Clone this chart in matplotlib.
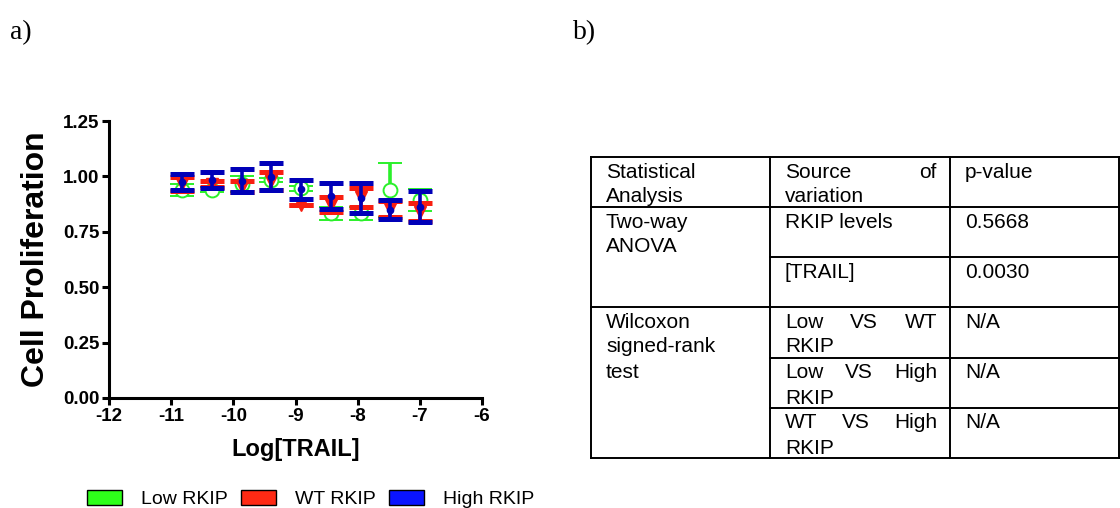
import matplotlib
matplotlib.use("Agg")
import matplotlib.pyplot as plt
from matplotlib.patches import Patch

plt.rcParams['font.family'] = ['Liberation Sans', 'DejaVu Sans']

# data
log_trail = [-10.82, -10.34, -9.86, -9.39, -8.91, -8.43, -7.95, -7.48, -7.00]
series_names = ["Low RKIP", "WT RKIP", "High RKIP"]
low_mean = [0.940, 0.940, 0.965, 0.984, 0.946, 0.833, 0.833, 0.939, 0.893]
low_err = [0.027, 0.010, 0.035, 0.010, 0.010, 0.030, 0.030, 0.120, 0.049]
wt_mean = [0.966, 0.965, 0.953, 0.980, 0.871, 0.873, 0.905, 0.853, 0.840]
wt_err = [0.032, 0.015, 0.025, 0.041, 0.000, 0.035, 0.044, 0.036, 0.040]
high_mean = [0.975, 0.984, 0.981, 0.999, 0.941, 0.911, 0.901, 0.850, 0.864]
high_err = [0.035, 0.037, 0.052, 0.060, 0.043, 0.058, 0.068, 0.043, 0.068]

xticks = [-12, -11, -10, -9, -8, -7, -6]
yticks = [0.00, 0.25, 0.50, 0.75, 1.00, 1.25]

# table text
header = ["Statistical\nAnalysis", "Source of\nvariation", "p-value"]
analyses = ["Two-way\nANOVA", "Wilcoxon\nsigned-rank\ntest"]
sources = ["RKIP levels", "[TRAIL]", "Low VS WT\nRKIP", "Low VS High\nRKIP", "WT VS High\nRKIP"]
pvalues = ["0.5668", "0.0030", "N/A", "N/A", "N/A"]

green = '#2AF02A'
red = '#F81E10'
blue = '#0000B8'

fig = plt.figure(figsize=(11.2, 5.08), dpi=100)
W, H = 1120, 508

ax = fig.add_axes([109 / W, 1 - 398 / H, (482 - 109) / W, (398 - 121) / H])

common = dict(capsize=8.5, capthick=3.6, elinewidth=2.6, linestyle='none')
ax.errorbar(log_trail, low_mean, yerr=low_err, fmt='o', color=green, mfc='white',
            mec=green, ms=10, mew=1.4, zorder=3, **common)
ax.errorbar(log_trail, wt_mean, yerr=wt_err, fmt='v', color=red, mfc=red,
            mec=red, ms=9, zorder=4, **common)
ax.errorbar(log_trail, high_mean, yerr=high_err, fmt='o', color=blue, mfc=blue,
            mec=blue, ms=4.5, zorder=5, **common)

ax.set_xlim(-12, -6)
ax.set_ylim(0, 1.25)
ax.set_xticks(xticks)
ax.set_yticks(yticks)
ax.set_xticklabels([str(t) for t in xticks])
ax.set_yticklabels(['%.2f' % t for t in yticks])
for s in ['top', 'right']:
    ax.spines[s].set_visible(False)
for s in ['left', 'bottom']:
    ax.spines[s].set_linewidth(2.2)
ax.tick_params(direction='out', length=5, width=2.2, labelsize=13.5, pad=2)
for lab in ax.get_xticklabels() + ax.get_yticklabels():
    lab.set_fontweight('bold')

ax.set_ylabel("Cell Proliferation", fontsize=23, fontweight='bold')
ax.yaxis.set_label_coords(-0.155, 0.5)
ax.set_xlabel("Log[TRAIL]", fontsize=17, fontweight='bold')
ax.xaxis.set_label_coords(0.5, -0.145)

handles = [Patch(facecolor=c, edgecolor='black', linewidth=1.0)
           for c in ['#2EFF1A', '#FF2A14', '#0A14FF']]
fig.legend(handles, series_names, loc='lower left', bbox_to_anchor=(87 / W, 0.0),
           ncol=3, frameon=False, fontsize=14, handlelength=1.8, handleheight=0.85,
           handletextpad=1.0, columnspacing=0.65, borderpad=0, borderaxespad=0)

# panel letters
fig.text(10 / W, 1 - 39 / H, "a)", fontsize=20, family='Liberation Serif', va='baseline')
fig.text(573 / W, 1 - 39 / H, "b)", fontsize=20, family='Liberation Serif', va='baseline')

# table drawn in pixel coordinates
tab = fig.add_axes([0, 0, 1, 1])
tab.set_xlim(0, W)
tab.set_ylim(H, 0)
tab.axis('off')

cols = [591, 770, 950, 1119]
rows = [157, 207, 257, 307, 358, 408, 458]
lw = 1.4
for x in cols:
    tab.plot([x, x], [rows[0], rows[-1]], color='black', lw=lw, solid_capstyle='projecting')
for y in [rows[0], rows[1], rows[3], rows[-1]]:
    tab.plot([cols[0], cols[-1]], [y, y], color='black', lw=lw, solid_capstyle='projecting')
for y in [rows[2], rows[4], rows[5]]:
    tab.plot([cols[1], cols[-1]], [y, y], color='black', lw=lw, solid_capstyle='projecting')

fs = 15
line_h = 25
pad_l = 15
pad_r = 13
first_base = 20.5
renderer = fig.canvas.get_renderer()


def cell_text(text, col, top, justify=False):
    x0 = cols[col] + pad_l
    x1 = cols[col + 1] - pad_r
    lines = text.split("\n")
    for k, line in enumerate(lines):
        y = top + first_base + k * line_h
        words = line.split(" ")
        if justify and len(words) > 1 and k < len(lines) - 1:
            # spread the words over the full cell width
            arts = [tab.text(x0, y, w_, fontsize=fs, va='baseline', ha='left') for w_ in words]
            widths = [a.get_window_extent(renderer=renderer).width for a in arts]
            gap = ((x1 - x0) - sum(widths)) / (len(words) - 1)
            xx = x0
            for a, wd in zip(arts, widths):
                a.set_x(xx)
                xx += wd + gap
        else:
            tab.text(x0, y, line, fontsize=fs, va='baseline', ha='left')


for j, h in enumerate(header):
    cell_text(h, j, rows[0], justify=True)
cell_text(analyses[0], 0, rows[1])
cell_text(analyses[1], 0, rows[3])
for i, (s, p) in enumerate(zip(sources, pvalues)):
    cell_text(s, 1, rows[1 + i], justify=True)
    cell_text(p, 2, rows[1 + i])

fig.savefig("out.png", dpi=100)
